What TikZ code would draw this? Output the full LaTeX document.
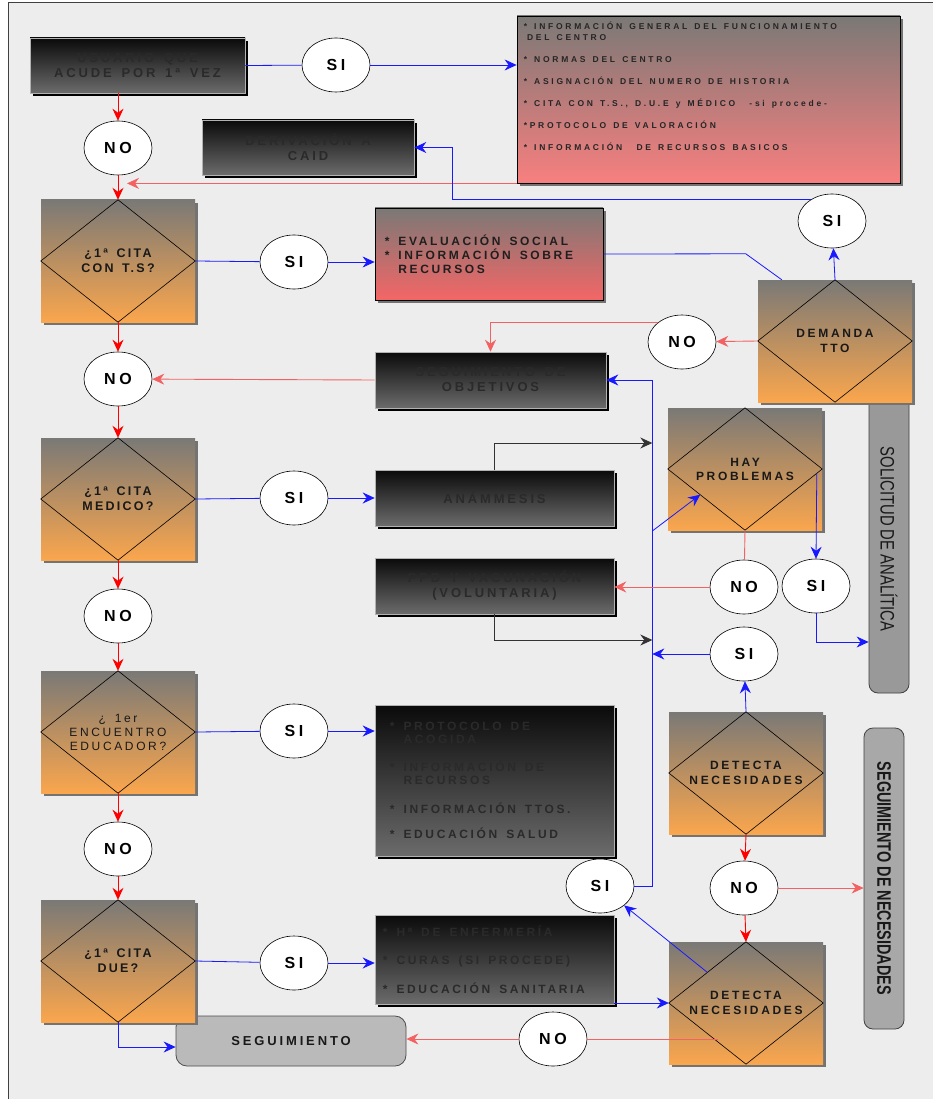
\documentclass[tikz,border=0pt]{standalone}
\usepackage{graphicx}
\usepackage{fontspec}
\setmainfont{Liberation Sans}
\newfontfamily\wide[LetterSpace=22,WordSpace=1.5]{Liberation Sans}
\newfontfamily\wider[LetterSpace=32,WordSpace=1.4]{Liberation Sans}
\newfontfamily\narrowish[LetterSpace=18,WordSpace=1.5]{Liberation Sans}
\usetikzlibrary{positioning,calc,shapes.geometric,arrows.meta,shadows}
\definecolor{panel}{RGB}{237,237,237}
\definecolor{topgray}{RGB}{122,121,118}
\definecolor{salmon}{RGB}{248,127,127}
\definecolor{rosy}{RGB}{244,102,102}
\definecolor{orng}{RGB}{250,166,77}
\definecolor{lred}{RGB}{243,98,98}
\definecolor{pblue}{RGB}{25,25,255}
\definecolor{boxtext}{RGB}{42,42,42}

\begin{document}
\begin{tikzpicture}[x=1pt,y=-1pt,
    >={Stealth[length=12pt,width=11pt,inset=4pt]},
    darkbox/.style={rectangle,draw=gray!60,line width=0.6pt,top color=black!96,bottom color=black!58,
      text=boxtext,align=center,inner sep=0pt,font=\wide\bfseries\fontsize{13}{15}\selectfont,
      drop shadow={shadow xshift=3pt,shadow yshift=-3pt,opacity=1,fill=black}},
    listtext/.style={align=left,inner sep=0pt,text=boxtext,font=\wide\bfseries\fontsize{12}{13.5}\selectfont},
    pinkbox/.style={rectangle,draw=black,line width=0.8pt,top color=topgray,bottom color=salmon,inner sep=0pt,
      drop shadow={shadow xshift=3pt,shadow yshift=-3pt,opacity=1,fill=black!55}},
    decision/.style={rectangle,minimum width=154pt,minimum height=122pt,top color=topgray,bottom color=orng,
      inner sep=0pt,align=center,text=black!90,font=\narrowish\bfseries\fontsize{12.5}{15}\selectfont,
      drop shadow={shadow xshift=3pt,shadow yshift=-3pt,opacity=1,fill=black!55}},
    rightdec/.style={decision,font=\wide\bfseries\fontsize{12}{15}\selectfont},
    answer/.style={ellipse,draw=black,line width=0.6pt,fill=white,minimum width=68pt,minimum height=54pt,
      inner sep=0pt,font=\wide\bfseries\fontsize{16}{16}\selectfont},
    sidebar/.style={rectangle,rounded corners=9pt,draw=black!75,line width=0.8pt,rotate=-90,
      minimum height=40pt,inner sep=0pt,text=black!90},
    siline/.style={draw=pblue,line width=0.8pt},
    noline/.style={draw=red,line width=0.9pt},
    nolight/.style={draw=lred,line width=0.9pt},
    plain/.style={draw=black!80,line width=0.8pt}]

\useasboundingbox (0,0) rectangle (932,1099);
\fill[white] (0,0) rectangle (932,1099);
\draw[black!75,line width=0.8pt,fill=panel] (8,2) rectangle (945,1110);

\node[sidebar,fill=black!40,minimum width=308pt] (analit) at (889,539)
  {\scalebox{0.76}[1]{\fontsize{19.5}{20}\selectfont SOLICITUD DE ANALÍTICA}};
\node[sidebar,fill=black!34,minimum width=301pt] (segnec) at (884,878.5)
  {\scalebox{0.74}[1]{\fontsize{19.5}{20}\selectfont\bfseries SEGUIMIENTO DE NECESIDADES}};

\node[darkbox,minimum width=215pt,minimum height=55pt] (usuario) at (137.5,65.5) {USUARIO QUE\\ACUDE POR 1ª VEZ};
\node[darkbox,minimum width=212pt,minimum height=55pt] (deriv) at (308,147.5) {DERIVACIÓN A\\CAID};
\node[darkbox,minimum width=231pt,minimum height=56pt] (segobj) at (490.5,380) {SEGUIMIENTO DE\\OBJETIVOS};
\node[darkbox,minimum width=239pt,minimum height=56pt] (anam) at (494.5,498) {ANÁMMESIS};
\node[darkbox,minimum width=239pt,minimum height=56pt] (ppd) at (494.5,586) {PPD Y VACUNACIÓN\\(VOLUNTARIA)};
\node[darkbox,minimum width=239pt,minimum height=151pt] (acogida) at (494.5,780.5) {};
\node[listtext,right=15pt of acogida.west] (acogidatxt)
  {* PROTOCOLO DE\\\phantom{* }ACOGIDA\\[14pt]* INFORMACIÓN DE\\\phantom{* }RECURSOS\\[15pt]* INFORMACIÓN TTOS.\\[12pt]* EDUCACIÓN SALUD};
\node[darkbox,minimum width=239pt,minimum height=89pt] (enferm) at (494.5,959.5) {};
\node[listtext,right=8pt of enferm.west] (enfermtxt)
  {* Hª DE ENFERMERÍA\\[15pt]* CURAS (SI PROCEDE)\\[15pt]* EDUCACIÓN SANITARIA};

\node[pinkbox,minimum width=383pt,minimum height=167pt] (info) at (708.5,99.5) {};
\node[below right=6pt and 7pt of info.north west,align=left,inner sep=0pt,text=black!85,
  font=\wider\bfseries\fontsize{8.5}{11}\selectfont] (infotxt)
  {* INFORMACIÓN GENERAL DEL FUNCIONAMIENTO\\
   \phantom{*}DEL CENTRO\\[11pt]
   * NORMAS DEL CENTRO\\[11pt]
   * ASIGNACIÓN DEL NUMERO DE HISTORIA\\[11pt]
   * CITA CON T.S., D.U.E y MÉDICO \ -si procede-\\[11pt]
   *PROTOCOLO DE VALORACIÓN\\[11pt]
   * INFORMACIÓN \ DE RECURSOS BASICOS};
\node[pinkbox,bottom color=rosy,minimum width=228pt,minimum height=92pt] (eval) at (489,254) {};
\node[listtext,right=10pt of eval.west,text=black!88,font=\wide\bfseries\fontsize{12}{14}\selectfont] (evaltxt)
  {* EVALUACIÓN SOCIAL\\* INFORMACIÓN SOBRE\\\phantom{* }RECURSOS};

\node[rectangle,rounded corners=11pt,draw=black!70,line width=0.8pt,fill=black!27,minimum width=230pt,
  minimum height=50pt,text=black!90,font=\wide\bfseries\fontsize{13}{15}\selectfont] (seguim) at (291,1041) {SEGUIMIENTO};

\node[decision] (cita1) at (118,261) {¿1ª CITA\\CON T.S?};
\node[decision] (cita2) at (118,499) {¿1ª CITA\\MEDICO?};
\node[decision,font=\wide\fontsize{12}{14}\selectfont] (cita3) at (118,732) {¿ 1er\\ENCUENTRO\\EDUCADOR?};
\node[decision] (cita4) at (118,961) {¿1ª CITA\\DUE?};
\node[rightdec] (demanda) at (835,341) {DEMANDA\\TTO};
\node[rightdec,font=\wide\bfseries\fontsize{12}{14}\selectfont] (problem) at (745,469) {HAY\\PROBLEMAS};
\node[rightdec] (detect1) at (746,773) {DETECTA\\NECESIDADES};
\node[rightdec] (detect2) at (746,1003) {DETECTA\\NECESIDADES};
\foreach \d in {cita1,cita2,cita3,cita4,demanda,problem,detect1,detect2}
  \draw[line width=0.6pt] (\d.north) -- (\d.east) -- (\d.south) -- (\d.west) -- cycle;

\node[answer] (siUsr) at (336,65) {SI};
\node[answer] (noUsr) at (118,148) {NO};
\node[answer] (siTs) at (294,262) {SI};
\node[answer] (noTs) at (118,379) {NO};
\node[answer] (siMed) at (294,498) {SI};
\node[answer] (noMed) at (118,616) {NO};
\node[answer] (siEdu) at (294,731) {SI};
\node[answer] (noEdu) at (118,849) {NO};
\node[answer] (siDue) at (294,963) {SI};
\node[answer] (siDem) at (832,221) {SI};
\node[answer] (noDem) at (682,342) {NO};
\node[answer] (noProb) at (744,587) {NO};
\node[answer] (siProb) at (816,586) {SI};
\node[answer] (siNec) at (744,654) {SI};
\node[answer] (noNec) at (744,888) {NO};
\node[answer] (siNec2) at (600,886) {SI};
\node[answer] (noNec2) at (553,1039) {NO};

\coordinate (spine) at ($(segobj.east)+(46,0)$);

\draw[noline,->] (noUsr |- usuario.south) -- (noUsr);
\draw[noline,->] (noUsr) -- (cita1.north);
\draw[nolight,->] (info.south west) -- ($(noUsr |- info.south)+(9,0)$);
\draw[siline] (usuario.east) -- (siUsr);
\draw[siline,->] (siUsr) -- (siUsr -| info.west);
\draw[siline,->] (siDem.135) -| ($(deriv.east)+(38,0)$) -- (deriv.east);
\draw[siline,->] (demanda.north) -- (siDem);
\draw[siline] (eval.east) -- ($(demanda.north west)+(-12,-26)$) -- ($(demanda.north west)+(24,0)$);
\draw[nolight,->] (demanda.west) -- (noDem);
\draw[nolight,->] (noDem.140) -| (segobj.north);
\draw[nolight,->] (segobj.west) -- (noTs);

\draw[siline] (cita1.east) -- (siTs);
\draw[siline,->] (siTs) -- (siTs -| eval.west);
\draw[noline,->] (cita1.south) -- (noTs);
\draw[noline,->] (noTs) -- (cita2.north);
\draw[siline] (cita2.east) -- (siMed);
\draw[siline,->] (siMed) -- (siMed -| anam.west);
\draw[noline,->] (cita2.south) -- (noMed);
\draw[noline,->] (noMed) -- (cita3.north);
\draw[siline] (cita3.east) -- (siEdu);
\draw[siline,->] (siEdu) -- (siEdu -| acogida.west);
\draw[noline,->] (cita3.south) -- (noEdu);
\draw[noline,->] (noEdu) -- (cita4.north);
\draw[siline] (cita4.east) -- (siDue);
\draw[siline,->] (siDue) -- (siDue -| enferm.west);
\draw[siline,->] (cita4.south) |- ($(seguim.west)+(0,6)$);

\draw[siline,->] (siNec2.east) -| (spine) -- (segobj.east);
\draw[plain,->] (anam.north) |- ($(spine)+(0,63)$);
\draw[plain,->] (ppd.south) |- ($(spine)+(0,260)$);
\draw[siline,->] ($(spine)+(0,151)$) -- ($(problem.west)!0.42!(problem.south)$);
\draw[nolight] (problem.south) -- (noProb);
\draw[nolight,->] (noProb.west) -- (noProb.west -| ppd.east);
\draw[siline,->] ($(problem.east)!0.07!(problem.south)$) -- (siProb.north);
\draw[siline,->] (siProb.south) |- ($(analit.south)+(0,103)$);
\draw[siline,->] (siNec.west) -- (siNec.west -| spine);
\draw[siline,->] (detect1.north) -- (siNec);
\draw[noline,->] (detect1.south) -- (noNec);
\draw[nolight,->] (noNec.east) -- (noNec.east -| segnec.south);
\draw[noline,->] (noNec) -- (detect2.north);
\draw[siline,->] ($(detect2.north)!0.5!(detect2.west)$) -- (siNec2);
\draw[siline,->] (detect2.west -| enferm.east) -- (detect2.west);
\draw[nolight] ($(detect2.west)+(49,36)$) -- (noNec2);
\draw[nolight,->] (noNec2) -- (noNec2 -| seguim.east);
\end{tikzpicture}
\end{document}
